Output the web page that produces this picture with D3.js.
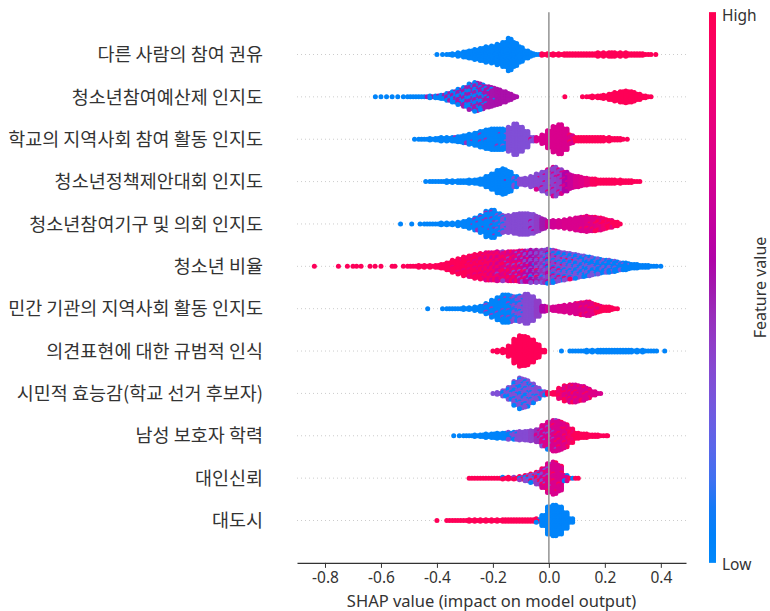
<!DOCTYPE html>
<html><head><meta charset="utf-8">
<script src="https://cdn.jsdelivr.net/npm/d3@7"></script>
<style>body{margin:0;background:#fff}</style>
</head><body><svg id="c" width="770" height="611"></svg>
<script>
// Feature names (top to bottom)
const features = [
  "다른 사람의 참여 권유",
  "청소년참여예산제 인지도",
  "학교의 지역사회 참여 활동 인지도",
  "청소년정책제안대회 인지도",
  "청소년참여기구 및 의회 인지도",
  "청소년 비율",
  "민간 기관의 지역사회 활동 인지도",
  "의견표현에 대한 규범적 인식",
  "시민적 효능감(학교 선거 후보자)",
  "남성 보호자 학력",
  "대인신뢰",
  "대도시"
];
const xTicks = [-0.8, -0.6, -0.4, -0.2, 0.0, 0.2, 0.4];
const xLabel = "SHAP value (impact on model output)";
const cbarLabels = {high: "High", low: "Low", title: "Feature value"};

// Each bin: [SHAP value, number of samples, feature value A, feature value B, share B, feature value C, share C]
const f1 = [[-0.40,1,0.03],[-0.38,1,0.03],[-0.36,2,0.03],[-0.34,3,0.03],[-0.32,5,0.03],[-0.30,8,0.03],[-0.28,10,0.03],[-0.26,13,0.03],[-0.24,16,0.03],[-0.22,19,0.03],[-0.20,21,0.03],[-0.18,25,0.03],[-0.16,30,0.03],[-0.14,39,0.03],[-0.12,29,0.03],[-0.10,19,0.03],[-0.08,10,0.03],[-0.06,5,0.03],[-0.04,2,0.03],
  [-0.02,3,0.98],[0.00,3,0.98],[0.02,3,0.98],[0.04,3,0.98],[0.06,4,0.98],[0.08,4,0.98],[0.10,4,0.98],[0.12,4,0.98],[0.14,4,0.98],[0.16,4,0.98],[0.18,5,0.98],[0.20,5,0.98],[0.22,6,0.98],[0.24,5,0.98],[0.26,5,0.98],[0.28,5,0.98],[0.30,4,0.98],[0.32,4,0.98],[0.34,3,0.98],[0.36,2,0.98],[0.382,1,0.98]];
const f2 = [[-0.62,1,0.03],[-0.60,1,0.03],[-0.58,1,0.03],[-0.56,1,0.03],[-0.54,1,0.03],[-0.52,1,0.03],[-0.50,2,0.03],[-0.48,2,0.03],[-0.46,2,0.03],[-0.44,2,0.03,0.5,0.3],[-0.42,3,0.03,0.5,0.3],[-0.40,4,0.03,0.5,0.3],[-0.38,6,0.03,0.5,0.4],[-0.36,10,0.03,0.5,0.4],[-0.34,14,0.03,0.5,0.4],[-0.32,19,0.03,0.5,0.5],[-0.30,24,0.03,0.5,0.5],[-0.28,31,0.03,0.5,0.5],[-0.26,35,0.03,0.5,0.5],[-0.24,31,0.5,0.03,0.4],[-0.22,26,0.52,0.03,0.2],[-0.20,23,0.52,0.03,0.1],[-0.18,19,0.53],[-0.16,14,0.53],[-0.14,9,0.53],[-0.12,3,0.53],
  [0.057,1,0.98],[0.12,1,0.98],[0.14,2,0.98],[0.16,3,0.98],[0.18,4,0.98],[0.20,5,0.98],[0.22,8,0.98],[0.24,11,0.98],[0.26,14,0.98],[0.28,15,0.98],[0.30,13,0.98],[0.32,8,0.98],[0.34,4,0.98],[0.36,2,0.98]];
const f3 = [[-0.48,1,0.03],[-0.46,2,0.03],[-0.44,2,0.03],[-0.42,3,0.03],[-0.40,4,0.03],[-0.38,5,0.03,0.45,0.15],[-0.36,5,0.03],[-0.34,6,0.03,0.45,0.15],[-0.32,8,0.03],[-0.30,10,0.03,0.45,0.1],[-0.28,13,0.03,0.45,0.1],[-0.26,16,0.03],[-0.24,20,0.03,0.45,0.1],[-0.22,24,0.03,0.45,0.1],[-0.20,26,0.03],[-0.18,26,0.03,0.45,0.1],[-0.16,25,0.03,0.33,0.1],
  [-0.14,29,0.33],[-0.12,38,0.33],[-0.10,30,0.33],[-0.08,20,0.33],[-0.06,6,0.33,0.7,0.3],
  [-0.04,5,0.72],[-0.02,11,0.72],[0.00,21,0.72],[0.02,31,0.72],[0.04,36,0.72],[0.06,26,0.72],[0.08,11,0.72,0.97,0.3],
  [0.10,6,0.97],[0.12,6,0.97],[0.14,6,0.97],[0.16,6,0.97],[0.18,6,0.97],[0.20,5,0.97],[0.22,5,0.97],[0.24,4,0.97],[0.26,3,0.97],[0.28,1,0.97]];
const f4 = [[-0.44,1,0.03],[-0.42,2,0.03],[-0.40,2,0.03],[-0.38,2,0.03],[-0.36,3,0.03],[-0.34,3,0.03],[-0.32,4,0.03],[-0.30,4,0.03],[-0.28,5,0.03],[-0.26,6,0.03],[-0.24,8,0.03],[-0.22,14,0.03],[-0.20,20,0.03],[-0.18,28,0.03],[-0.16,31,0.03,0.5,0.05],[-0.14,25,0.03],[-0.12,14,0.03,0.35,0.3],
  [-0.10,8,0.35],[-0.08,9,0.35],[-0.06,13,0.35],[-0.04,19,0.35,0.72,0.1],[-0.02,24,0.35,0.72,0.15],[0.00,30,0.36,0.72,0.15],[0.02,36,0.37,0.72,0.15],[0.04,30,0.4,0.72,0.2],[0.06,24,0.55,0.72,0.3],[0.08,17,0.65],
  [0.10,14,0.72],[0.12,11,0.75],[0.14,9,0.8],
  [0.16,8,0.95],[0.18,6,0.97],[0.20,6,0.97],[0.22,6,0.97],[0.24,5,0.97],[0.26,5,0.97],[0.28,4,0.97],[0.30,3,0.97],[0.32,2,0.97]];
const f5 = [[-0.53,1,0.03],[-0.49,1,0.03],[-0.46,1,0.03],[-0.44,2,0.03],[-0.42,2,0.03],[-0.40,2,0.03],[-0.38,3,0.03],[-0.36,3,0.03],[-0.34,3,0.03],[-0.32,5,0.03],[-0.30,8,0.03],[-0.28,11,0.03,0.45,0.1],[-0.26,16,0.03,0.45,0.15],[-0.24,21,0.03,0.45,0.15],[-0.22,31,0.03,0.45,0.1],[-0.20,34,0.03,0.45,0.15],[-0.18,26,0.03,0.35,0.2],[-0.16,21,0.35,0.03,0.3],
  [-0.14,21,0.35],[-0.12,24,0.35],[-0.10,26,0.35],[-0.08,26,0.35],[-0.06,24,0.35,0.6,0.1],[-0.04,19,0.4],[-0.02,13,0.5],
  [0.00,8,0.65],[0.02,9,0.68],[0.04,9,0.7],[0.06,11,0.72],[0.08,13,0.72],[0.10,16,0.72],[0.12,18,0.72,0.9,0.1],[0.14,19,0.74,0.95,0.15],[0.16,18,0.75,0.95,0.2],[0.18,16,0.78,0.97,0.3],[0.20,13,0.85,0.97,0.4],[0.22,10,0.97,0.8,0.3],[0.24,6,0.97],[0.255,1,0.97]];
const f6 = [[-0.838,1,0.97],[-0.752,1,0.97],[-0.72,1,0.97],[-0.70,1,0.97],[-0.687,1,0.97],[-0.671,1,0.97],[-0.639,1,0.97],[-0.621,1,0.97],[-0.60,1,0.97],[-0.56,1,0.97],[-0.55,1,0.97],
  [-0.52,1,0.97],[-0.50,2,0.97],[-0.48,2,0.97],[-0.46,3,0.97],[-0.44,3,0.97],[-0.42,3,0.97],[-0.40,4,0.97],[-0.38,6,0.97],[-0.36,10,0.97],[-0.34,15,0.97,0.8,0.1],[-0.32,19,0.97,0.8,0.1],[-0.30,23,0.97,0.8,0.15],[-0.28,26,0.95,0.8,0.2],[-0.26,29,0.95,0.78,0.25],[-0.24,31,0.95,0.75,0.3],[-0.22,34,0.93,0.75,0.35],[-0.20,34,0.92,0.72,0.4],[-0.18,35,0.9,0.7,0.45,0.4,0.05],[-0.16,35,0.75,0.95,0.4,0.4,0.1],[-0.14,36,0.72,0.95,0.35,0.4,0.1],[-0.12,36,0.7,0.95,0.3,0.35,0.15],[-0.10,38,0.65,0.95,0.25,0.35,0.2],[-0.08,38,0.6,0.35,0.3,0.95,0.15],[-0.06,39,0.55,0.35,0.35,0.05,0.05],[-0.04,39,0.5,0.35,0.4,0.95,0.1],[-0.02,40,0.45,0.3,0.4,0.05,0.1],[0.00,41,0.4,0.6,0.3,0.05,0.15],[0.02,39,0.38,0.05,0.25,0.7,0.15],[0.04,35,0.35,0.05,0.3,0.8,0.1],[0.06,33,0.35,0.05,0.35,0.9,0.05],[0.08,31,0.33,0.05,0.4,0.9,0.05],[0.10,29,0.32,0.05,0.45],[0.12,26,0.3,0.05,0.5],[0.14,24,0.05,0.3,0.5],[0.16,21,0.05,0.3,0.45],[0.18,19,0.05,0.3,0.4],[0.20,16,0.05,0.3,0.35],[0.22,15,0.05,0.3,0.3],[0.24,13,0.05,0.3,0.25],[0.26,10,0.05,0.3,0.2],[0.28,9,0.05,0.3,0.15],[0.30,6,0.05],[0.32,5,0.05],[0.34,4,0.05],[0.36,3,0.05],[0.38,2,0.05],[0.40,1,0.05]];
const f7 = [[-0.433,1,0.03],[-0.38,1,0.03],[-0.36,2,0.03],[-0.34,2,0.03],[-0.32,2,0.03],[-0.30,3,0.03],[-0.28,3,0.03],[-0.26,5,0.03],[-0.24,8,0.03],[-0.22,13,0.03,0.4,0.1],[-0.20,21,0.03,0.4,0.1],[-0.18,28,0.03,0.4,0.1],[-0.16,34,0.03,0.4,0.1],[-0.14,33,0.03,0.4,0.2],[-0.12,30,0.1,0.35,0.45],[-0.10,31,0.35,0.03,0.2],[-0.08,36,0.35],[-0.06,30,0.35],[-0.04,20,0.4],[-0.02,8,0.55],
  [0.00,5,0.68],[0.02,6,0.7],[0.04,8,0.72],[0.06,9,0.72],[0.08,11,0.72],[0.10,14,0.72,0.95,0.1],[0.12,16,0.72,0.95,0.15],[0.14,18,0.72,0.95,0.2],[0.16,13,0.78,0.97,0.4],[0.18,9,0.97,0.75,0.3],[0.20,6,0.97],[0.22,5,0.97],[0.24,2,0.97]];
const f8 = [[-0.20,1,0.98],[-0.18,3,0.98],[-0.16,5,0.98],[-0.14,13,0.98],[-0.12,29,0.98],[-0.10,37,0.98],[-0.08,35,0.98],[-0.06,28,0.98],[-0.04,17,0.98],[-0.02,4,0.98],
  [0.045,1,0.03],[0.08,2,0.03],[0.10,2,0.03],[0.12,2,0.03],[0.14,3,0.03],[0.16,3,0.03],[0.18,4,0.03],[0.20,4,0.03],[0.22,4,0.03],[0.24,4,0.03],[0.26,4,0.03],[0.28,4,0.03],[0.30,3,0.03],[0.32,3,0.03],[0.34,3,0.03],[0.36,2,0.03],[0.38,2,0.03],[0.414,1,0.03]];
const f9 = [[-0.20,1,0.33],[-0.18,3,0.33,0.03,0.3],[-0.16,8,0.33,0.03,0.3],[-0.14,16,0.33,0.03,0.3],[-0.12,29,0.33,0.03,0.35],[-0.10,37,0.33,0.03,0.35],[-0.08,33,0.33,0.03,0.3],[-0.06,24,0.33,0.03,0.25],[-0.04,15,0.35,0.03,0.2],[-0.02,6,0.4,0.03,0.2],
  [0.00,3,0.97],[0.02,4,0.97],[0.04,13,0.85,0.97,0.4],[0.06,19,0.75,0.97,0.3],[0.08,22,0.72,0.97,0.25],[0.10,21,0.72,0.97,0.2],[0.12,18,0.72,0.97,0.2],[0.14,13,0.72,0.97,0.2],[0.16,6,0.75],[0.18,2,0.72]];
const f10 = [[-0.34,1,0.03],[-0.32,1,0.03],[-0.30,2,0.03],[-0.28,2,0.03],[-0.26,3,0.03],[-0.24,4,0.03],[-0.22,5,0.03],[-0.20,6,0.03],[-0.18,7,0.03],[-0.16,8,0.03],[-0.14,9,0.05,0.35,0.3],[-0.12,10,0.35,0.03,0.2],[-0.10,11,0.35],[-0.08,12,0.35],[-0.06,13,0.38],[-0.04,16,0.45,0.72,0.3],
  [-0.02,26,0.72,0.35,0.2],[0.00,34,0.72,0.35,0.15,0.03,0.05],[0.02,38,0.72,0.4,0.1,0.97,0.1],[0.04,35,0.72,0.97,0.15],[0.06,29,0.75,0.97,0.25],[0.08,18,0.85,0.97,0.4],
  [0.10,8,0.97],[0.12,6,0.97],[0.14,5,0.97],[0.16,4,0.97],[0.18,3,0.97],[0.20,2,0.97],[0.21,1,0.97]];
const f11 = [[-0.28,2,0.98],[-0.26,2,0.98],[-0.24,2,0.98],[-0.22,2,0.98],[-0.20,2,0.98],[-0.18,2,0.98],[-0.16,3,0.98,0.03,0.3],[-0.14,3,0.98],[-0.12,3,0.98,0.4,0.2],[-0.10,5,0.4,0.98,0.4,0.03,0.2],[-0.08,8,0.35,0.98,0.3,0.03,0.2],[-0.06,11,0.35,0.98,0.3,0.03,0.2],[-0.04,16,0.4,0.98,0.35,0.05,0.1],[-0.02,24,0.7,0.35,0.3,0.98,0.2],[0.00,35,0.72,0.35,0.1,0.98,0.1],[0.02,39,0.72,0.98,0.1],[0.04,31,0.72,0.98,0.1],[0.06,8,0.72,0.03,0.2],[0.08,2,0.98,0.03,0.5],[0.10,2,0.98]];
const f12 = [[-0.40,1,0.98],[-0.36,2,0.98],[-0.34,2,0.98],[-0.32,2,0.98],[-0.30,2,0.98],[-0.28,3,0.98],[-0.26,3,0.98],[-0.24,3,0.98],[-0.22,3,0.98],[-0.20,3,0.98],[-0.18,3,0.98],[-0.16,4,0.98],[-0.14,4,0.98],[-0.12,4,0.98],[-0.10,4,0.98],[-0.08,4,0.98],[-0.06,4,0.98],[-0.04,5,0.98,0.03,0.2],
  [-0.02,14,0.03],[0.00,34,0.03],[0.02,38,0.03],[0.04,34,0.03],[0.06,20,0.03],[0.08,6,0.03]];
const rows = [f1,f2,f3,f4,f5,f6,f7,f8,f9,f10,f11,f12];

// ---------- drawing ----------
const svg = d3.select("#c");
const x = d3.scaleLinear().domain([-0.9, 0.49]).range([297, 686]);
const y = d3.scalePoint().domain(features).range([54.5, 520.5]);
const step = y.step();
const plotTop = y(features[0]) - step, plotBottom = y(features[features.length-1]) + step;

// SHAP red-blue colormap in LCh
function shapColor(t){
  t = Math.max(0, Math.min(1, t));
  const L = t < 0.5 ? 54 - 28*t : 40 + 28*(t-0.5);
  const C = 70 + 20*t;
  const h = 266.93 + t*(380.32-266.93);
  return d3.lch(L, C, h).formatHex();
}

// gridlines
svg.append("g").selectAll("line").data(features).join("line")
  .attr("x1", x.range()[0]).attr("x2", x.range()[1])
  .attr("y1", d => y(d)).attr("y2", d => y(d))
  .attr("stroke", "#cccccc").attr("stroke-width", 1).attr("stroke-dasharray", "1,3");

// dots
const dy = 1.7, colOff = 0.005, r = 2.5;
const PHI = 0.6180339887;
const dots = [];
rows.forEach((bins, ri) => {
  const cy = y(features[ri]);
  bins.forEach((b, bi) => {
    const [v, n, fa, fb, sb = 0, fc, sc = 0] = b;
    const m0 = Math.ceil(n/2), m1 = n - m0;
    for (let k = 0; k < n; k++) {
      const col = n === 1 ? 0 : k % 2;
      const m = col === 1 ? m1 : m0;
      const i = Math.floor(k/2);
      const off = (i - (m-1)/2) * dy;
      const xv = n === 1 ? v : v + (col === 0 ? -colOff : colOff);
      const s = (k + bi*13 + ri*5) * PHI;
      const u = s - Math.floor(s);
      const fv = u < sb ? fb : (u < sb + sc ? fc : fa);
      dots.push({x: xv, y: cy + off, c: shapColor(fv)});
    }
  });
});
svg.append("g").selectAll("circle").data(dots).join("circle")
  .attr("cx", d => x(d.x)).attr("cy", d => d.y).attr("r", r)
  .attr("fill", d => d.c);

// zero line (on top of dots)
svg.append("line").attr("x1", x(0)).attr("x2", x(0))
  .attr("y1", plotTop).attr("y2", plotBottom)
  .attr("stroke", "#999999").attr("stroke-width", 1.6);

// feature labels
svg.append("g").selectAll("text").data(features).join("text")
  .attr("x", 263).attr("y", d => y(d)).attr("dy", "0.36em")
  .attr("text-anchor", "end")
  .attr("font-family", "'Noto Sans CJK KR', 'Noto Sans', sans-serif")
  .attr("font-size", 18.5).attr("fill", "#333333")
  .text(d => d);

// x axis
const ax = svg.append("g").attr("transform", `translate(0,${plotBottom})`)
  .call(d3.axisBottom(x).tickValues(xTicks).tickFormat(d => d.toFixed(1))
    .tickSize(5).tickSizeOuter(0).tickPadding(4));
ax.select(".domain").attr("stroke", "#333333").attr("stroke-width", 1.2);
ax.selectAll(".tick line").attr("stroke", "#333333");
ax.selectAll(".tick text").attr("fill", "#333333")
  .attr("font-family", "'Noto Sans', sans-serif").attr("font-size", 15.5);

svg.append("text").attr("x", (x.range()[0]+x.range()[1])/2).attr("y", 606.5)
  .attr("text-anchor", "middle").attr("fill", "#333333")
  .attr("font-family", "'Noto Sans', sans-serif").attr("font-size", 16.5)
  .text(xLabel);

// colorbar
const defs = svg.append("defs");
const grad = defs.append("linearGradient").attr("id", "cbar")
  .attr("x1", 0).attr("y1", 1).attr("x2", 0).attr("y2", 0);
d3.range(0, 1.0001, 0.05).forEach(t =>
  grad.append("stop").attr("offset", t).attr("stop-color", shapColor(t)));
const cbX = 709, cbW = 7;
svg.append("rect").attr("x", cbX).attr("y", plotTop).attr("width", cbW)
  .attr("height", plotBottom - plotTop).attr("fill", "url(#cbar)");
svg.append("text").attr("x", 722).attr("y", plotTop + 9)
  .attr("fill", "#333333").attr("font-family", "'Noto Sans', sans-serif").attr("font-size", 15.5)
  .text(cbarLabels.high);
svg.append("text").attr("x", 722).attr("y", plotBottom + 7)
  .attr("fill", "#333333").attr("font-family", "'Noto Sans', sans-serif").attr("font-size", 15.5)
  .text(cbarLabels.low);
svg.append("text").attr("transform", `translate(766,${(plotTop+plotBottom)/2}) rotate(-90)`)
  .attr("text-anchor", "middle").attr("fill", "#333333")
  .attr("font-family", "'Noto Sans', sans-serif").attr("font-size", 16)
  .text(cbarLabels.title);
</script>
</body></html>
